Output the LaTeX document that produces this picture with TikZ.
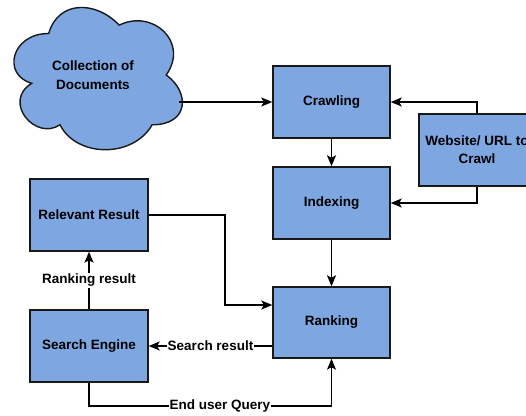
\documentclass[tikz,border=0pt]{standalone}
\usepackage{fontspec}
\setmainfont{Liberation Sans}
\usetikzlibrary{arrows.meta}
\definecolor{boxblue}{HTML}{7EA6E0}
\begin{document}
\begin{tikzpicture}[x=1pt,y=-1pt,
  every node/.style={font=\fontsize{13.5}{18}\selectfont\bfseries},
  box/.style={draw=black!90,line width=1.4pt,fill=boxblue,minimum width=117pt,minimum height=72pt,align=center,inner sep=0pt},
  arr/.style={line width=1.3pt,-{Stealth[length=11pt,width=9pt,inset=2.5pt]}},
  lbl/.style={fill=white,inner sep=1pt}]
\useasboundingbox (0,0) rectangle (526,415);
\clip (0,0) rectangle (526,415);
% cloud
\begin{scope}[shift={(1.7,-8)},x=188pt,y=-166pt]
\draw[line width=1.4pt,fill=boxblue,draw=black!90]
  (0.25,0.25) .. controls (0.05,0.25) and (0,0.5) .. (0.16,0.55)
  .. controls (0,0.66) and (0.18,0.9) .. (0.31,0.8)
  .. controls (0.4,1) and (0.7,1) .. (0.8,0.8)
  .. controls (1,0.8) and (1,0.6) .. (0.875,0.5)
  .. controls (1,0.3) and (0.8,0.1) .. (0.625,0.2)
  .. controls (0.5,0.05) and (0.3,0.05) .. (0.25,0.25) -- cycle;
\end{scope}
\node[align=center,font=\fontsize{13.5}{19}\selectfont\bfseries] (cloud) at (93,75) {Collection of\\Documents};
\coordinate (cloudE) at (179,102);
% boxes
\node[box] (crawl) at (331.5,102) {Crawling};
\node[box] (index) at (331.5,203) {Indexing};
\node[box,minimum height=71pt] (rank) at (331.5,322.5) {Ranking};
\node[box,minimum width=116pt] (web) at (477,150) {Website/ URL to\\Crawl};
\node[box,minimum width=118pt] (rel) at (89,215) {Relevant Result};
\node[box,minimum width=118pt] (se) at (89,346) {Search Engine};
% connectors
\draw[arr] (cloudE) -- (crawl.west);
\draw[arr] (web.north) |- (crawl.east);
\draw[arr] (web.south) |- (index.east);
\draw[arr] (crawl.south) -- (index.north);
\draw[arr] (index.south) -- (rank.north);
\coordinate (relturn) at (225,215);
\draw[arr] (rel.east) -- (relturn) |- ([yshift=17.5pt]rank.west);
\draw[arr] (rank.west |- se.east) -- node[lbl]{Search result} (se.east);
\draw[arr] (se.north) -- node[lbl]{Ranking result} (rel.south);
\coordinate (q) at (331.5,406);
\draw[arr] (se.south) |- node[lbl,pos=0.77]{End user Query} (q) -- (rank.south);
\end{tikzpicture}
\end{document}
